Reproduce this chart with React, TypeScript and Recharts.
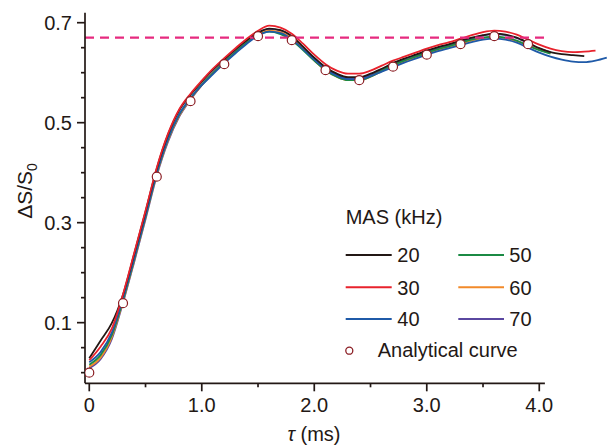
import React from 'react';
import { LineChart, Line, XAxis, YAxis, ReferenceLine, Legend } from 'recharts';

const tau = [0, 0.1, 0.2, 0.3, 0.4, 0.5, 0.6, 0.7, 0.8, 0.9, 1.0, 1.1, 1.2, 1.3, 1.4, 1.5, 1.6, 1.7, 1.8, 1.9, 2.0, 2.1, 2.2, 2.3, 2.4, 2.5, 2.6, 2.7, 2.8, 2.9, 3.0, 3.1, 3.2, 3.3, 3.4, 3.5, 3.6, 3.7, 3.8, 3.9, 4.0, 4.1, 4.2, 4.3, 4.4, 4.5, 4.6];

const mas20 = [0.029, 0.064, 0.099, 0.156, 0.238, 0.322, 0.408, 0.476, 0.525, 0.556, 0.582, 0.606, 0.627, 0.647, 0.665, 0.680, 0.688, 0.685, 0.673, 0.652, 0.630, 0.611, 0.598, 0.591, 0.591, 0.598, 0.608, 0.619, 0.628, 0.636, 0.644, 0.651, 0.657, 0.664, 0.670, 0.675, 0.678, 0.676, 0.670, 0.660, 0.649, 0.641, 0.637, 0.635, 0.633, null, null];
const mas30 = [0.025, 0.052, 0.088, 0.157, 0.240, 0.324, 0.410, 0.478, 0.527, 0.558, 0.584, 0.608, 0.629, 0.649, 0.668, 0.684, 0.694, 0.690, 0.678, 0.658, 0.636, 0.617, 0.604, 0.598, 0.598, 0.604, 0.614, 0.624, 0.632, 0.640, 0.648, 0.655, 0.661, 0.668, 0.675, 0.681, 0.684, 0.682, 0.676, 0.666, 0.656, 0.648, 0.643, 0.641, 0.642, 0.644, null];
const mas40 = [0.021, 0.041, 0.080, 0.148, 0.229, 0.313, 0.400, 0.468, 0.517, 0.549, 0.575, 0.597, 0.619, 0.639, 0.658, 0.674, 0.682, 0.679, 0.667, 0.647, 0.626, 0.607, 0.594, 0.587, 0.587, 0.593, 0.602, 0.611, 0.620, 0.628, 0.636, 0.643, 0.649, 0.655, 0.661, 0.666, 0.668, 0.666, 0.660, 0.650, 0.640, 0.632, 0.626, 0.622, 0.621, 0.624, 0.630];
const mas50 = [0.016, 0.035, 0.075, 0.145, 0.227, 0.312, 0.399, 0.467, 0.516, 0.549, 0.576, 0.599, 0.621, 0.641, 0.660, 0.675, 0.682, 0.677, 0.665, 0.645, 0.624, 0.605, 0.592, 0.585, 0.585, 0.592, 0.604, 0.615, 0.624, 0.632, 0.640, 0.647, 0.653, 0.660, 0.666, 0.670, 0.672, 0.670, 0.664, 0.654, 0.645, 0.638, null, null, null, null, null];
const mas60 = [0.012, 0.030, 0.071, 0.143, 0.225, 0.310, 0.397, 0.465, 0.514, 0.547, 0.575, 0.599, 0.621, 0.641, 0.660, 0.676, 0.684, 0.681, 0.669, 0.648, 0.624, 0.605, 0.592, 0.585, 0.585, 0.592, 0.603, 0.613, 0.622, 0.630, 0.638, 0.645, 0.651, 0.658, 0.664, 0.669, 0.671, 0.669, 0.663, 0.655, 0.646, 0.639, null, null, null, null, null];
const mas70 = [0.009, 0.027, 0.067, 0.140, 0.222, 0.307, 0.394, 0.462, 0.512, 0.546, 0.575, 0.601, 0.623, 0.643, 0.662, 0.679, 0.687, 0.684, 0.672, 0.650, 0.628, 0.609, 0.596, 0.589, 0.589, 0.596, 0.606, 0.617, 0.626, 0.634, 0.642, 0.649, 0.655, 0.662, 0.668, 0.674, 0.677, 0.675, 0.669, 0.659, 0.648, 0.641, null, null, null, null, null];

const tauAnalytical = [0, 0.3, 0.6, 0.9, 1.2, 1.5, 1.8, 2.1, 2.4, 2.7, 3.0, 3.3, 3.6, 3.9];
const analytical = [0.000, 0.139, 0.392, 0.543, 0.617, 0.673, 0.665, 0.605, 0.585, 0.612, 0.636, 0.657, 0.673, 0.657];

const plateau = 0.67;
const xTicks = [0, 0.5, 1, 1.5, 2, 2.5, 3, 3.5, 4];
const yTicks = [0, 0.05, 0.1, 0.15, 0.2, 0.25, 0.3, 0.35, 0.4, 0.45, 0.5, 0.55, 0.6, 0.65, 0.7];
const yLabeled = ['0.1', '0.3', '0.5', '0.7'];

const series = [
  { key: 'mas20', name: '20', color: '#231815', values: mas20 },
  { key: 'mas30', name: '30', color: '#e8222c', values: mas30 },
  { key: 'mas40', name: '40', color: '#1f5aa8', values: mas40 },
  { key: 'mas50', name: '50', color: '#1b8a44', values: mas50 },
  { key: 'mas60', name: '60', color: '#f28a2a', values: mas60 },
  { key: 'mas70', name: '70', color: '#5a47a0', values: mas70 },
];
const drawOrder = ['mas70', 'mas60', 'mas50', 'mas40', 'mas20', 'mas30'];

const rows = tau.map((t, i) => {
  const r: any = { tau: t };
  series.forEach((s) => { r[s.key] = s.values[i]; });
  return r;
});
const analyticalRows = tauAnalytical.map((t, i) => ({ tau: t, analytical: analytical[i] }));

const FONT = '"Liberation Sans", Arial, Helvetica, sans-serif';
const INK = '#231815';
const X_MIN = -0.038;
const X_MAX = 4.611;
const Y_MIN = -0.0213;
const Y_MAX = 0.72;
const AXIS_END = 4.05;
const AXIS_Y = 383.3;
const AXIS_X = 85;

const XTick = (props: any) => {
  const { x, payload } = props;
  const v = payload.value;
  const major = Math.abs(v - Math.round(v)) < 1e-6;
  return (
    <g>
      <line x1={x} x2={x} y1={AXIS_Y} y2={AXIS_Y + (major ? 8 : 4)} stroke={INK} strokeWidth={1.7} />
      {major && (
        <text x={x} y={AXIS_Y + 29} textAnchor="middle" fontSize={20} fontFamily={FONT} fill={INK}>
          {v === 0 ? '0' : v.toFixed(1)}
        </text>
      )}
    </g>
  );
};

const YTick = (props: any) => {
  const { y, payload } = props;
  const label = payload.value.toFixed(1);
  const isLabel = yLabeled.includes(label) && Math.abs(payload.value * 10 - Math.round(payload.value * 10)) < 1e-6;
  return (
    <g>
      <line x1={AXIS_X - (isLabel ? 8 : 4)} x2={AXIS_X} y1={y} y2={y} stroke={INK} strokeWidth={1.7} />
      {isLabel && (
        <text x={72} y={y + 7.2} textAnchor="end" fontSize={20} fontFamily={FONT} fill={INK}>
          {label}
        </text>
      )}
    </g>
  );
};

const LegendBox = () => {
  const left = [series[0], series[1], series[2]];
  const right = [series[3], series[4], series[5]];
  const rowsY = [55, 87.3, 119];
  return (
    <svg width={270} height={170} style={{ overflow: 'visible', display: 'block' }}>
      <text x={5.7} y={23.5} fontSize={20} fontFamily={FONT} fill={INK}>MAS (kHz)</text>
      {left.map((s, i) => (
        <g key={s.key}>
          <line x1={5.7} x2={51.7} y1={rowsY[i]} y2={rowsY[i]} stroke={s.color} strokeWidth={1.9} />
          <text x={57.3} y={rowsY[i] + 7.2} fontSize={20} fontFamily={FONT} fill={INK}>{s.name}</text>
        </g>
      ))}
      {right.map((s, i) => (
        <g key={s.key}>
          <line x1={118.3} x2={164} y1={rowsY[i]} y2={rowsY[i]} stroke={s.color} strokeWidth={1.9} />
          <text x={169.3} y={rowsY[i] + 7.2} fontSize={20} fontFamily={FONT} fill={INK}>{s.name}</text>
        </g>
      ))}
      <circle cx={9.3} cy={150.7} r={3.5} fill="#fff" stroke="#8b1e24" strokeWidth={1.3} />
      <text x={37.7} y={157.3} fontSize={20} fontFamily={FONT} fill={INK}>Analytical curve</text>
    </svg>
  );
};

export default function App() {
  return (
    <div style={{ position: 'absolute', left: 0, top: 0, width: 608, height: 448, background: '#fff' }}>
      <LineChart
        width={608}
        height={448}
        data={rows}
        margin={{ top: 12.7, right: 0, bottom: 24.7, left: 25 }}
      >
        <XAxis
          type="number"
          dataKey="tau"
          domain={[X_MIN, X_MAX]}
          ticks={xTicks}
          tick={<XTick />}
          tickLine={false}
          axisLine={false}
          allowDataOverflow
          interval={0}
          height={40}
        />
        <YAxis
          type="number"
          domain={[Y_MIN, Y_MAX]}
          ticks={yTicks}
          tick={<YTick />}
          tickLine={false}
          axisLine={{ stroke: INK, strokeWidth: 1.7 }}
          allowDataOverflow
          interval={0}
          width={60}
          label={{
            content: () => (
              <text
                x={31.5}
                y={191}
                transform="rotate(-90, 31.5, 191)"
                textAnchor="middle"
                fontSize={21}
                fontFamily={FONT}
                fill={INK}
              >
                ΔS/S<tspan fontSize={14} dy={5}>0</tspan>
              </text>
            ),
          }}
        />
        <ReferenceLine
          segment={[{ x: X_MIN, y: Y_MIN }, { x: AXIS_END, y: Y_MIN }]}
          stroke={INK}
          strokeWidth={1.7}
          ifOverflow="visible"
        />
        {drawOrder.map((k) => {
          const s = series.find((q) => q.key === k)!;
          return (
            <Line
              key={k}
              type="monotone"
              dataKey={k}
              name={s.name}
              stroke={s.color}
              strokeWidth={1.8}
              dot={false}
              activeDot={false}
              isAnimationActive={false}
            />
          );
        })}
        <ReferenceLine
          segment={[{ x: X_MIN, y: plateau }, { x: AXIS_END, y: plateau }]}
          stroke="#e62a7f"
          strokeWidth={2.2}
          strokeDasharray="9 6"
          ifOverflow="visible"
        />
        <Line
          data={analyticalRows}
          dataKey="analytical"
          name="Analytical curve"
          stroke="none"
          strokeWidth={0}
          dot={{ r: 4.5, fill: '#fff', stroke: '#8b1e24', strokeWidth: 1.2 }}
          activeDot={false}
          isAnimationActive={false}
        />
        <Legend
          layout="horizontal"
          verticalAlign="middle"
          align="center"
          content={<LegendBox />}
          wrapperStyle={{ position: 'absolute', left: 340, top: 200, width: 270, height: 170 }}
        />
        <text x={314} y={441} textAnchor="middle" fontSize={20} fontFamily={FONT} fill={INK}>
          <tspan fontStyle="italic">τ</tspan> (ms)
        </text>
      </LineChart>
    </div>
  );
}
